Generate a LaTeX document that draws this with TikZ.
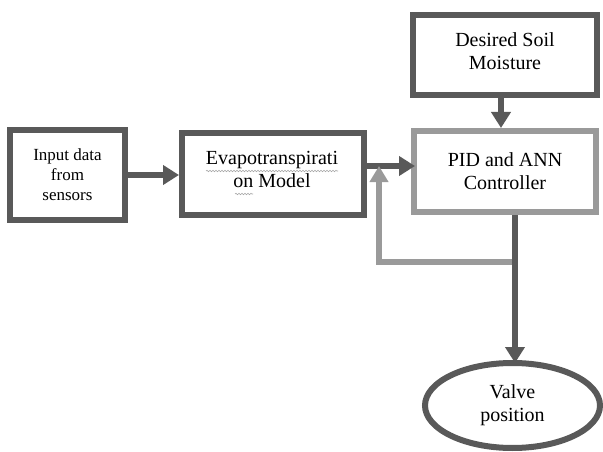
\documentclass[tikz,border=0pt]{standalone}
\usepackage{fontspec}
\setmainfont{Liberation Serif}
\newfontfamily\tnr{Liberation Serif}
\usetikzlibrary{arrows.meta,shapes.geometric,decorations.pathmorphing}
\definecolor{darkg}{HTML}{595959}
\definecolor{lightg}{HTML}{9A9A9A}
\begin{document}
\begin{tikzpicture}[x=1pt,y=-1pt,
  box/.style={draw=darkg,line width=6pt,fill=white,align=center,inner sep=0pt,font=\tnr\fontsize{20}{23}\selectfont},
  lbox/.style={box,draw=lightg},
  darkarrow/.style={draw=darkg,line width=6pt,-{Triangle[length=16pt,width=19pt]}},
  lightarrow/.style={draw=lightg,line width=6pt,-{Triangle[length=16pt,width=18pt]}},
  wavy/.style={draw=gray!70,line width=0.6pt,decorate,decoration={snake,amplitude=0.7pt,segment length=3pt}}]
\useasboundingbox (0,0) rectangle (603,452);
\node[box,minimum width=115pt,minimum height=90pt,font=\tnr\fontsize{17}{20}\selectfont] (inp) at (67.5,175) {Input data\\from\\sensors};
\node[box,minimum width=182pt,minimum height=82pt] (evap) at (273,174) {};
\node[align=center,inner sep=0pt,font=\tnr\fontsize{20}{23}\selectfont] (evapt) at (272,169) {Evapotranspirati\\on Model};
\node[box,minimum width=184pt,minimum height=80pt] (des) at (505,55) {Desired Soil\\Moisture\\[-15pt]\mbox{}};
\node[lbox,minimum width=182pt,minimum height=81pt] (pid) at (505,171.5) {PID and ANN\\Controller};
\node[box,ellipse,minimum width=175pt,minimum height=85pt] (valve) at (512.5,405.5) {Valve\\position};
\draw[wavy] (206,171) -- (338,171);
\draw[wavy] (235,194) -- (253,194);
\coordinate (j) at (379,166);
\coordinate (fbR) at (515,262);
\coordinate (fbL) at (379,262);
\coordinate (dx) at (501,0);
\draw[darkarrow] (inp.east) -- (evap.west |- inp.east);
\draw[darkarrow] (evap.east |- j) -- ([xshift=4pt]pid.west |- j);
\draw[darkarrow] (des.south -| dx) -- (pid.north -| dx);
\draw[lightarrow] (fbR) -- (fbL) -- (j);
\draw[darkarrow] (pid.south -| fbR) -- ([yshift=-3pt]valve.north -| fbR);
\end{tikzpicture}
\end{document}
